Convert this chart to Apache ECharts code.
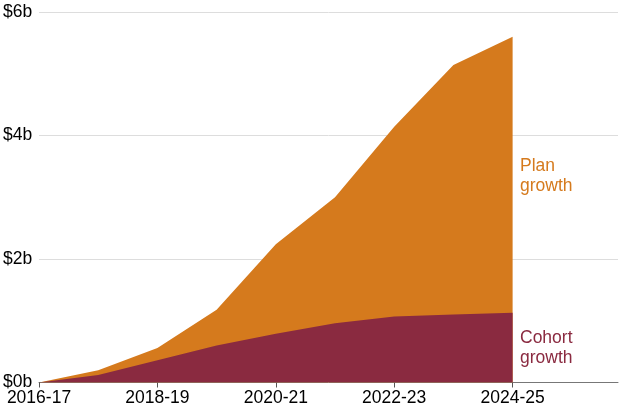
<!DOCTYPE html>
<html>
<head>
<meta charset="utf-8">
<script src="https://cdn.jsdelivr.net/npm/echarts@6/dist/echarts.min.js"></script>
<style>
html,body{margin:0;padding:0;background:#fff;}
#chart{width:628px;height:411px;}
</style>
</head>
<body>
<div id="chart"></div>
<script>
// years (start of financial year) and values in $b
var years = [2016, 2017, 2018, 2019, 2020, 2021, 2022, 2023, 2024];
var cohortGrowth = [0, 0.12, 0.36, 0.60, 0.79, 0.96, 1.07, 1.10, 1.13];
// top of the orange area = cohort + plan growth
var totalGrowth = [0, 0.20, 0.56, 1.18, 2.24, 3.00, 4.14, 5.14, 5.60];
var yTicks = [0, 2, 4, 6];

var colCohort = '#8a2a40';
var colPlan = '#d57a1d';
var font = 'Liberation Sans, Arial, Helvetica, sans-serif';

function pairs(vals){
	var out = [];
	for (var i = 0; i < years.length; i++) {
		out.push([years[i], vals[i]]);
	}
	return out;
}

var chart = echarts.init(document.getElementById('chart'));
var option = {
	animation: false,
	grid: { left: 36, right: 10, top: 12, bottom: 28.5 },
	xAxis: {
		type: 'value',
		min: 2016,
		max: 2025.78,
		interval: 2,
		axisLine: { lineStyle: { color: '#777', width: 1 } },
		axisTick: { show: true, length: 5, lineStyle: { color: '#555' } },
		splitLine: { show: false },
		axisLabel: {
			color: '#000', fontFamily: font, fontSize: 17.5, margin: 7,
			showMaxLabel: false,
			formatter: function(v){
				return v + '-' + String((v + 1) % 100);
			}
		}
	},
	yAxis: {
		type: 'value',
		min: yTicks[0],
		max: yTicks[yTicks.length - 1],
		interval: 2,
		axisLine: { show: false },
		axisTick: { show: false },
		splitLine: { lineStyle: { color: '#dddddd', width: 1 } },
		axisLabel: {
			color: '#000', fontFamily: font, fontSize: 17.5,
			align: 'left', margin: 36,
			formatter: function(v){ return '$' + v + 'b'; }
		}
	},
	series: [
		{
			name: 'Plan growth',
			type: 'line',
			data: pairs(totalGrowth),
			symbol: 'none',
			lineStyle: { width: 0 },
			areaStyle: { color: colPlan, opacity: 1 },
			z: 2
		},
		{
			name: 'Cohort growth',
			type: 'line',
			data: pairs(cohortGrowth),
			symbol: 'none',
			lineStyle: { width: 0 },
			areaStyle: { color: colCohort, opacity: 1 },
			z: 3
		}
	],
	graphic: [
		{
			type: 'text', left: 520, top: 156,
			style: { text: 'Plan\ngrowth', fill: colPlan, font: '17.5px ' + font, lineHeight: 20 }
		},
		{
			type: 'text', left: 520, top: 328,
			style: { text: 'Cohort\ngrowth', fill: colCohort, font: '17.5px ' + font, lineHeight: 20 }
		}
	]
};
chart.setOption(option);
</script>
</body>
</html>
